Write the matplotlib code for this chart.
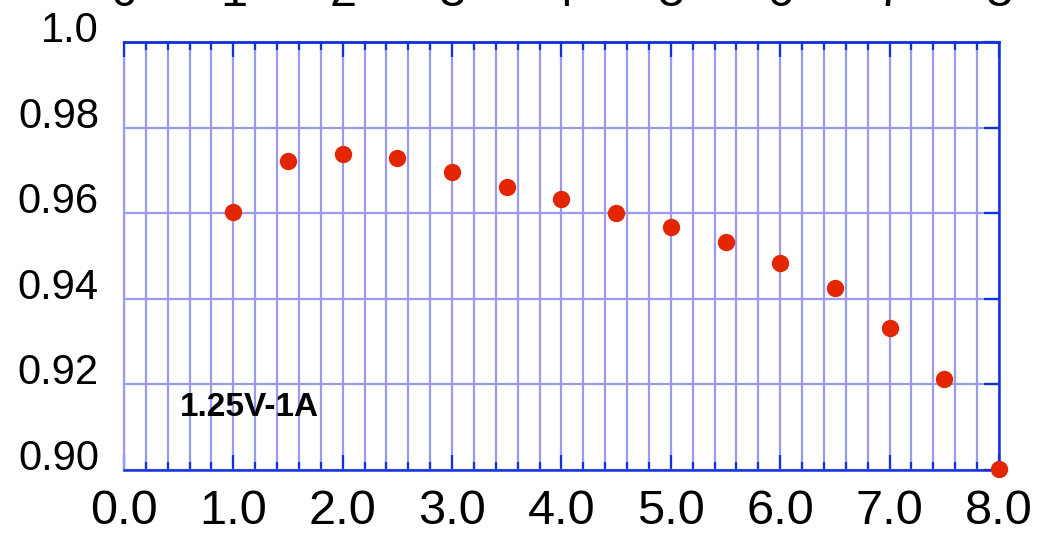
import matplotlib
matplotlib.use("Agg")
import matplotlib.pyplot as plt
from matplotlib.ticker import MultipleLocator

plt.rcParams['font.family'] = ['Liberation Sans', 'DejaVu Sans']

# Data
current = [1.0, 1.5, 2.0, 2.5, 3.0, 3.5, 4.0, 4.5, 5.0, 5.5, 6.0, 6.5, 7.0, 7.5, 8.0]
efficiency = [0.9603, 0.9723, 0.9738, 0.9730, 0.9696, 0.9662, 0.9634, 0.9600,
              0.9567, 0.9533, 0.9484, 0.9426, 0.9332, 0.9212, 0.9002]
x_ticks = [0, 1, 2, 3, 4, 5, 6, 7, 8]
x_labels_bottom = ["0.0", "1.0", "2.0", "3.0", "4.0", "5.0", "6.0", "7.0", "8.0"]
x_labels_top = ["0", "1", "2", "3", "4", "5", "6", "7", "8"]
y_ticks = [0.90, 0.92, 0.94, 0.96, 0.98, 1.0]
y_labels = ["0.90", "0.92", "0.94", "0.96", "0.98", "1.0"]
annotation = "1.25V-1A"

DARK = "#1432dc"
GRID = "#9a9af0"
RED = "#e32600"

fig = plt.figure(figsize=(10.39, 5.33), dpi=100)
ax = fig.add_axes([0.1193, 0.1182, 0.9615 - 0.1193, 0.9212 - 0.1182])

ax.set_xlim(0, 8)
ax.set_ylim(0.90, 1.0)

ax.set_xticks(x_ticks)
ax.set_xticklabels(x_labels_bottom)
ax.xaxis.set_minor_locator(MultipleLocator(0.2))
ax.set_yticks(y_ticks)
ax.set_yticklabels(y_labels)

ax.grid(True, which='both', axis='x', color=GRID, linewidth=1.6, zorder=0)
ax.grid(True, which='major', axis='y', color=GRID, linewidth=1.6, zorder=0)
ax.set_axisbelow(True)

ax.tick_params(axis='x', which='major', direction='in', length=11, width=1.6,
               color=DARK, labelsize=35, pad=14, top=False, bottom=True)
ax.tick_params(axis='x', which='minor', direction='in', length=6, width=1.6,
               color=DARK, top=False, bottom=True)
ax.tick_params(axis='y', which='major', direction='in', length=11, width=1.6,
               color=DARK, labelsize=30, pad=18, left=False, right=True,
               labelleft=True, labelright=False)
for lab in ax.get_yticklabels():
    lab.set_verticalalignment('baseline')

for side in ['bottom', 'right', 'top']:
    ax.spines[side].set_color(DARK)
    ax.spines[side].set_linewidth(1.8)
ax.spines['left'].set_color(GRID)
ax.spines['left'].set_linewidth(1.6)

# top axis with integer labels (partly outside the figure, as in the reference)
top = ax.twiny()
top.set_xlim(0, 8)
top.set_xticks(x_ticks)
top.set_xticklabels(x_labels_top)
top.xaxis.set_minor_locator(MultipleLocator(0.2))
top.tick_params(axis='x', which='major', direction='in', length=11, width=1.6,
                color=DARK, labelsize=35, pad=18.5)
top.tick_params(axis='x', which='minor', direction='in', length=6, width=1.6,
                color=DARK)
for side in ['bottom', 'left', 'right']:
    top.spines[side].set_visible(False)
top.spines['top'].set_color(DARK)
top.spines['top'].set_linewidth(1.8)

ax.plot(current, efficiency, linestyle='none', marker='o', markersize=12.5,
        color=RED, markeredgewidth=0, clip_on=False, zorder=5)

ax.text(0.51, 0.9126, annotation, fontsize=24, fontweight='bold',
        ha='left', va='baseline', color='black', zorder=6)

fig.savefig("out.png", dpi=100)
